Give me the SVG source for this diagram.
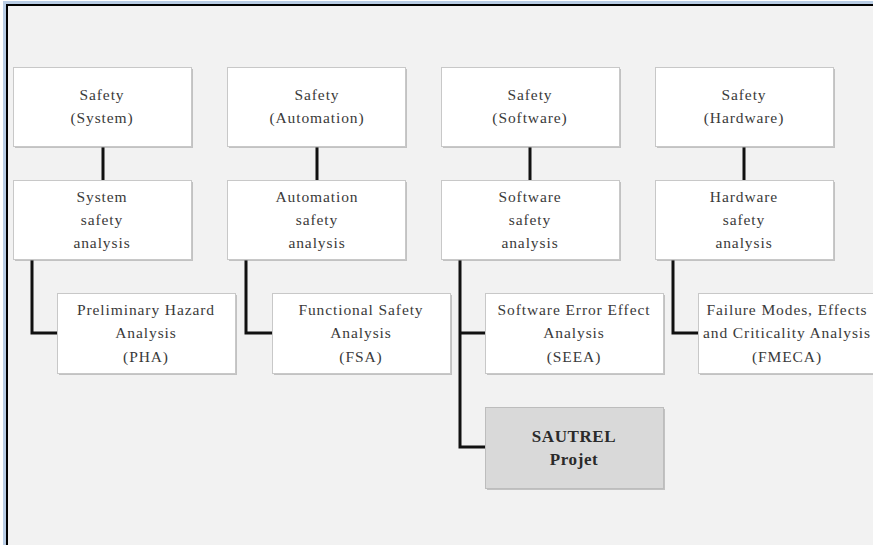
<svg xmlns="http://www.w3.org/2000/svg" width="873" height="545" viewBox="0 0 873 545">
  <defs>
    <style>
      .box { fill: #ffffff; stroke: #c8c8c8; stroke-width: 1; }
      .hl { fill: #d9d9d9; stroke: #bdbdbd; stroke-width: 1; }
      .shadow { fill: #9a9a9a; opacity: 0.55; }
      .t { font-family: "Liberation Serif", "Times New Roman", serif; font-size: 15.5px; fill: #3a3a3a; text-anchor: middle; letter-spacing: 0.9px; }
      .tb { font-family: "Liberation Serif", "Times New Roman", serif; font-size: 17px; font-weight: bold; fill: #2a2a2a; text-anchor: middle; letter-spacing: 0.6px; }
      .link { fill: none; stroke: #111111; stroke-width: 3; stroke-linejoin: miter; }
    </style>
  </defs>

  <!-- page frame -->
  <rect x="0" y="0" width="873" height="545" fill="#ffffff"/>
  <rect x="3" y="1" width="870" height="544" fill="#b8cce4"/>
  <rect x="6" y="4" width="867" height="541" fill="#000000"/>
  <rect x="8" y="6" width="865" height="539" fill="#f2f2f2"/>

  <!-- connectors -->
  <g id="connectors">
    <line class="link" x1="103" y1="146" x2="103" y2="181"/>
    <line class="link" x1="317" y1="146" x2="317" y2="181"/>
    <line class="link" x1="530" y1="146" x2="530" y2="181"/>
    <line class="link" x1="744" y1="146" x2="744" y2="181"/>
    <polyline class="link" points="32,259 32,333 58,333"/>
    <polyline class="link" points="246,259 246,333 273,333"/>
    <polyline class="link" points="460,259 460,447 486,447"/>
    <line class="link" x1="460" y1="333" x2="486" y2="333"/>
    <polyline class="link" points="673,259 673,333 699,333"/>
  </g>

  <!-- top row: safety domains -->
  <g id="safety-system">
    <rect class="shadow" x="15" y="69" width="178" height="79"/>
    <rect class="box" x="13.5" y="67.5" width="178" height="79"/>
    <text class="t" x="102" y="100">Safety</text>
    <text class="t" x="102" y="123">(System)</text>
  </g>
  <g id="safety-automation">
    <rect class="shadow" x="229" y="69" width="178" height="79"/>
    <rect class="box" x="227.5" y="67.5" width="178" height="79"/>
    <text class="t" x="317" y="100">Safety</text>
    <text class="t" x="317" y="123">(Automation)</text>
  </g>
  <g id="safety-software">
    <rect class="shadow" x="443" y="69" width="178" height="79"/>
    <rect class="box" x="441.5" y="67.5" width="178" height="79"/>
    <text class="t" x="530" y="100">Safety</text>
    <text class="t" x="530" y="123">(Software)</text>
  </g>
  <g id="safety-hardware">
    <rect class="shadow" x="657" y="69" width="178" height="79"/>
    <rect class="box" x="655.5" y="67.5" width="178" height="79"/>
    <text class="t" x="744" y="100">Safety</text>
    <text class="t" x="744" y="123">(Hardware)</text>
  </g>

  <!-- second row: safety analyses -->
  <g id="system-analysis">
    <rect class="shadow" x="15" y="182" width="178" height="79"/>
    <rect class="box" x="13.5" y="180.5" width="178" height="79"/>
    <text class="t" x="102" y="202">System</text>
    <text class="t" x="102" y="225">safety</text>
    <text class="t" x="102" y="248">analysis</text>
  </g>
  <g id="automation-analysis">
    <rect class="shadow" x="229" y="182" width="178" height="79"/>
    <rect class="box" x="227.5" y="180.5" width="178" height="79"/>
    <text class="t" x="317" y="202">Automation</text>
    <text class="t" x="317" y="225">safety</text>
    <text class="t" x="317" y="248">analysis</text>
  </g>
  <g id="software-analysis">
    <rect class="shadow" x="443" y="182" width="178" height="79"/>
    <rect class="box" x="441.5" y="180.5" width="178" height="79"/>
    <text class="t" x="530" y="202">Software</text>
    <text class="t" x="530" y="225">safety</text>
    <text class="t" x="530" y="248">analysis</text>
  </g>
  <g id="hardware-analysis">
    <rect class="shadow" x="657" y="182" width="178" height="79"/>
    <rect class="box" x="655.5" y="180.5" width="178" height="79"/>
    <text class="t" x="744" y="202">Hardware</text>
    <text class="t" x="744" y="225">safety</text>
    <text class="t" x="744" y="248">analysis</text>
  </g>

  <!-- third row: methods -->
  <g id="pha">
    <rect class="shadow" x="59" y="295" width="178" height="80"/>
    <rect class="box" x="57.5" y="293.5" width="178" height="80"/>
    <text class="t" x="146" y="315">Preliminary Hazard</text>
    <text class="t" x="146" y="338">Analysis</text>
    <text class="t" x="146" y="362">(PHA)</text>
  </g>
  <g id="fsa">
    <rect class="shadow" x="274" y="295" width="178" height="80"/>
    <rect class="box" x="272.5" y="293.5" width="178" height="80"/>
    <text class="t" x="361" y="315">Functional Safety</text>
    <text class="t" x="361" y="338">Analysis</text>
    <text class="t" x="361" y="362">(FSA)</text>
  </g>
  <g id="seea">
    <rect class="shadow" x="487" y="295" width="178" height="80"/>
    <rect class="box" x="485.5" y="293.5" width="178" height="80"/>
    <text class="t" x="574" y="315">Software Error Effect</text>
    <text class="t" x="574" y="338">Analysis</text>
    <text class="t" x="574" y="362">(SEEA)</text>
  </g>
  <g id="fmeca">
    <rect class="shadow" x="700" y="295" width="178" height="80"/>
    <rect class="box" x="698.5" y="293.5" width="178" height="80"/>
    <text class="t" x="787" y="315">Failure Modes, Effects</text>
    <text class="t" x="787" y="338">and Criticality Analysis</text>
    <text class="t" x="787" y="362">(FMECA)</text>
  </g>

  <!-- project -->
  <g id="sautrel">
    <rect class="shadow" x="487" y="409" width="178" height="81"/>
    <rect class="hl" x="485.5" y="407.5" width="178" height="81"/>
    <text class="tb" x="574" y="442">SAUTREL</text>
    <text class="tb" x="574" y="465">Projet</text>
  </g>
</svg>
